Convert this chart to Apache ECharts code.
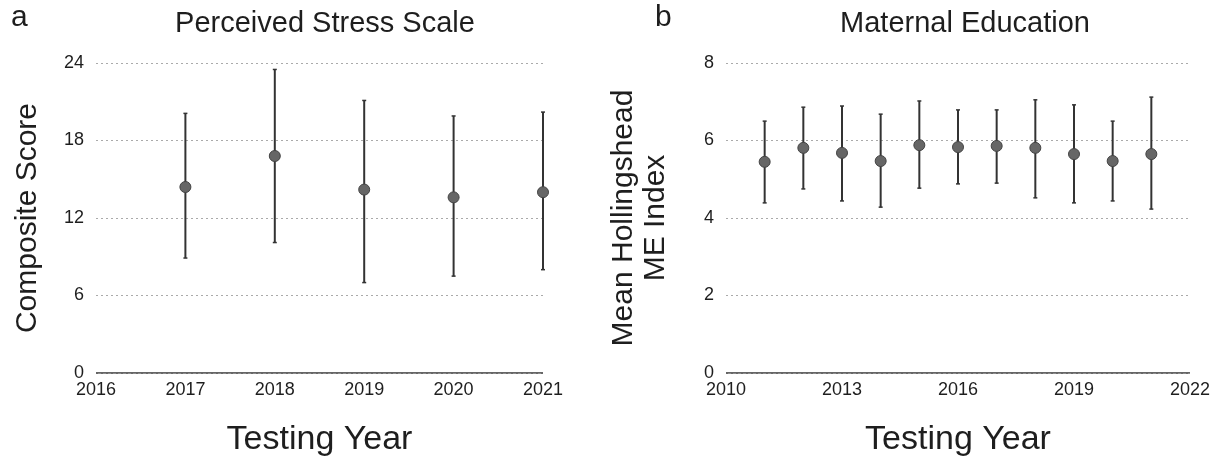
<!DOCTYPE html>
<html>
<head>
<meta charset="utf-8">
<script src="https://cdn.jsdelivr.net/npm/echarts@6/dist/echarts.min.js"></script>
<style>
  html, body { margin: 0; padding: 0; background: #fff; }
  #main { width: 1220px; height: 458px; }
</style>
</head>
<body>
<div id="main"></div>
<script>
// panel a - Perceived Stress Scale
var pssYears = [2017, 2018, 2019, 2020, 2021];
var pssMean  = [14.4, 16.8, 14.2, 13.6, 14.0];
var pssLow   = [8.9, 10.1, 7.0, 7.5, 8.0];
var pssHigh  = [20.1, 23.5, 21.1, 19.9, 20.2];

// panel b - Maternal Education
var meYears = [2011, 2012, 2013, 2014, 2015, 2016, 2017, 2018, 2019, 2020, 2021];
var meMean  = [5.45, 5.81, 5.68, 5.47, 5.88, 5.83, 5.86, 5.81, 5.65, 5.47, 5.65];
var meLow   = [4.39, 4.75, 4.44, 4.28, 4.77, 4.88, 4.90, 4.52, 4.39, 4.44, 4.23];
var meHigh  = [6.50, 6.86, 6.89, 6.68, 7.02, 6.79, 6.79, 7.05, 6.92, 6.50, 7.12];

var font = 'Liberation Sans';
var ink = '#1e1e1e';

function pairs(xs, ys) {
  return xs.map(function(x, i) { return [x, ys[i]]; });
}
function ranges(xs, lo, hi) {
  return xs.map(function(x, i) { return [x, lo[i], hi[i]]; });
}

// vertical error bar with tiny caps
function errBar(params, api) {
  var a = api.coord([api.value(0), api.value(1)]);
  var b = api.coord([api.value(0), api.value(2)]);
  return {
    type: 'group',
    children: [
      { type: 'line', shape: { x1: a[0], y1: a[1], x2: b[0], y2: b[1] }, style: { stroke: '#333', lineWidth: 2 } },
      { type: 'line', shape: { x1: a[0] - 2, y1: a[1], x2: a[0] + 2, y2: a[1] }, style: { stroke: '#333', lineWidth: 1.5 } },
      { type: 'line', shape: { x1: b[0] - 2, y1: b[1], x2: b[0] + 2, y2: b[1] }, style: { stroke: '#333', lineWidth: 1.5 } }
    ]
  };
}

function xAxisOf(idx, min, max, step) {
  return {
    type: 'value', gridIndex: idx, min: min, max: max, interval: step,
    name: 'Testing Year', nameLocation: 'middle', nameGap: 50,
    nameTextStyle: { fontFamily: font, fontSize: 34, color: ink },
    axisLine: { show: false },
    axisTick: { show: false },
    splitLine: { show: false },
    axisLabel: { fontFamily: font, fontSize: 18, color: ink, margin: 8,
      formatter: function(v) { return String(v); } }
  };
}

function yAxisOf(idx, max, step, name, gap) {
  return {
    type: 'value', gridIndex: idx, min: 0, max: max, interval: step,
    name: name, nameLocation: 'middle', nameGap: gap,
    nameTextStyle: { fontFamily: font, fontSize: 30, color: ink, lineHeight: 32 },
    axisLine: { show: false },
    axisTick: { show: false },
    axisLabel: { fontFamily: font, fontSize: 18, color: ink, margin: 12 },
    splitLine: { lineStyle: { color: '#aaa', type: [2, 3], width: 1 } }
  };
}

var dom = document.getElementById('main');
var myChart = echarts.init(dom);
var option = {
  backgroundColor: '#fff',
  animation: false,
  title: [
    { text: 'a', left: 6, top: -2, textStyle: { fontFamily: font, fontSize: 30, fontWeight: 'normal', color: ink } },
    { text: 'Perceived Stress Scale', left: 320, top: 4, textAlign: 'center',
      textStyle: { fontFamily: font, fontSize: 29, fontWeight: 'normal', color: ink } },
    { text: 'b', left: 650, top: -2, textStyle: { fontFamily: font, fontSize: 30, fontWeight: 'normal', color: ink } },
    { text: 'Maternal Education', left: 960, top: 4, textAlign: 'center',
      textStyle: { fontFamily: font, fontSize: 29, fontWeight: 'normal', color: ink } }
  ],
  grid: [
    { left: 96, right: 677, top: 63, bottom: 85, containLabel: false, outerBoundsMode: 'none' },
    { left: 726, right: 30, top: 63, bottom: 85, containLabel: false, outerBoundsMode: 'none' }
  ],
  xAxis: [xAxisOf(0, 2016, 2021, 1), xAxisOf(1, 2010, 2022, 3)],
  yAxis: [yAxisOf(0, 24, 6, 'Composite Score', 52), yAxisOf(1, 8, 2, 'Mean Hollingshead\nME Index', 54)],
  series: [
    { type: 'line', xAxisIndex: 0, yAxisIndex: 0, data: [[2016, 0], [2021, 0]], symbol: 'none',
      lineStyle: { color: '#333', width: 1.5 }, silent: true },
    { type: 'custom', xAxisIndex: 0, yAxisIndex: 0, data: ranges(pssYears, pssLow, pssHigh), renderItem: errBar },
    { type: 'scatter', xAxisIndex: 0, yAxisIndex: 0, data: pairs(pssYears, pssMean), symbolSize: 11,
      itemStyle: { color: '#666', borderColor: '#444', borderWidth: 1, opacity: 1 } },
    { type: 'line', xAxisIndex: 1, yAxisIndex: 1, data: [[2010, 0], [2022, 0]], symbol: 'none',
      lineStyle: { color: '#333', width: 1.5 }, silent: true },
    { type: 'custom', xAxisIndex: 1, yAxisIndex: 1, data: ranges(meYears, meLow, meHigh), renderItem: errBar },
    { type: 'scatter', xAxisIndex: 1, yAxisIndex: 1, data: pairs(meYears, meMean), symbolSize: 11,
      itemStyle: { color: '#666', borderColor: '#444', borderWidth: 1, opacity: 1 } }
  ]
};
if (option && typeof option === 'object') {
  myChart.setOption(option, true);
}
</script>
</body>
</html>
